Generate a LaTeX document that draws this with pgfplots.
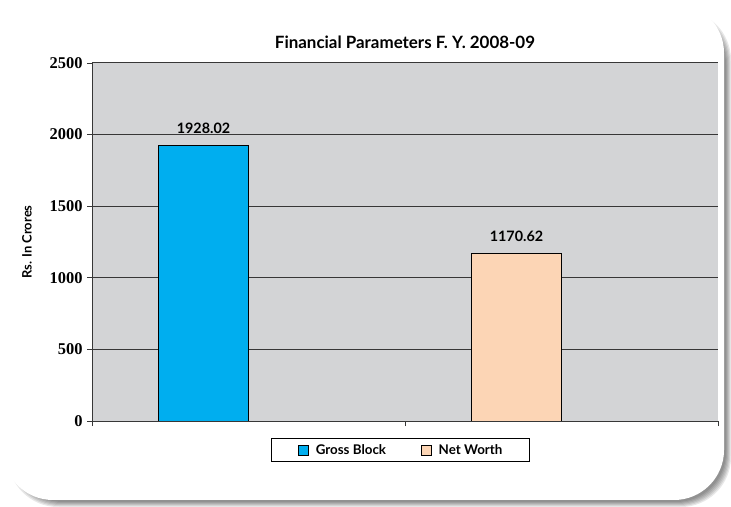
\documentclass[border=0pt]{standalone}
\usepackage{pgfplots}
\pgfplotsset{compat=1.18}
\usepackage{fontspec}
\setmainfont{Liberation Serif}
\newfontfamily\lblfont{Lato}

\definecolor{plotgray}{RGB}{211,212,214}
\definecolor{grossblue}{RGB}{0,174,239}
\definecolor{netpeach}{RGB}{252,213,181}
\definecolor{gridgray}{RGB}{55,55,55}

\begin{document}
\begin{tikzpicture}
\useasboundingbox (0bp,0bp) rectangle (731bp,507bp);
% card shadow
\foreach \i in {0,1,2,3,4,5} {
  \fill[black, opacity=0.09, rounded corners=50bp]
    (8bp+\i bp,0bp+\i bp) rectangle (731bp-\i bp,497bp-\i bp);
}
% white card
\fill[white, rounded corners=50bp] (3bp,7bp) rectangle (724bp,504bp);

\begin{axis}[
    at={(92bp,86bp)}, anchor=south west,
    scale only axis,
    width=626bp, height=358bp,
    xmin=-0.5, xmax=1.5,
    ymin=0, ymax=2500,
    xtick={-0.5,0.5,1.5},
    xticklabels={},
    ytick={0,500,...,2500},
    tick align=outside,
    major tick length=5bp,
    tick style={gridgray, line width=0.9bp},
    ymajorgrids,
    major grid style={gridgray, line width=1bp},
    axis x line*=bottom,
    axis y line*=left,
    axis line style={gridgray, line width=1bp, -},
    axis background/.style={fill=plotgray},
    ybar,
    bar width=90bp,
    /pgf/number format/assume math mode=true,
    /pgf/number format/1000 sep={},
    yticklabel style={font=\fontsize{16.5}{16.5}\selectfont\bfseries, xshift=-1bp},
    title={Financial Parameters F. Y. 2008-09},
    title style={font=\lblfont\bfseries\fontsize{17}{17}\selectfont, yshift=5bp},
    ylabel={Rs. In Crores},
    ylabel style={font=\lblfont\bfseries\fontsize{13}{13}\selectfont,
        at={(axis description cs:-0.104,0.5)}, anchor=center},
    every node near coord/.append style={font=\lblfont\bfseries\fontsize{14.4}{14.4}\selectfont, yshift=8bp},
    legend style={at={(0.4925,-0.047)}, anchor=north,
        legend columns=2, draw=black, line width=0.8bp,
        font=\lblfont\bfseries\fontsize{13.4}{13.4}\selectfont,
        nodes={inner sep=0pt},
        inner xsep=27bp, inner ysep=6bp,
        /tikz/every odd column/.append style={column sep=7bp},
        /tikz/every even column/.append style={column sep=35bp}},
    legend image code/.code={\draw[#1, draw=black, line width=0.6bp] (0bp,-5bp) rectangle (10bp,5bp);},
]
\addplot[fill=grossblue, draw=black, line width=0.7bp, bar shift=-45bp,
    nodes near coords, point meta=explicit symbolic]
    coordinates {(0,1928.02) [1928.02]};
\addplot[fill=netpeach, draw=black, line width=0.7bp, bar shift=-45bp,
    nodes near coords, point meta=explicit symbolic]
    coordinates {(1,1170.62) [1170.62]};
\legend{Gross Block, Net Worth}
\end{axis}
\end{tikzpicture}
\end{document}
